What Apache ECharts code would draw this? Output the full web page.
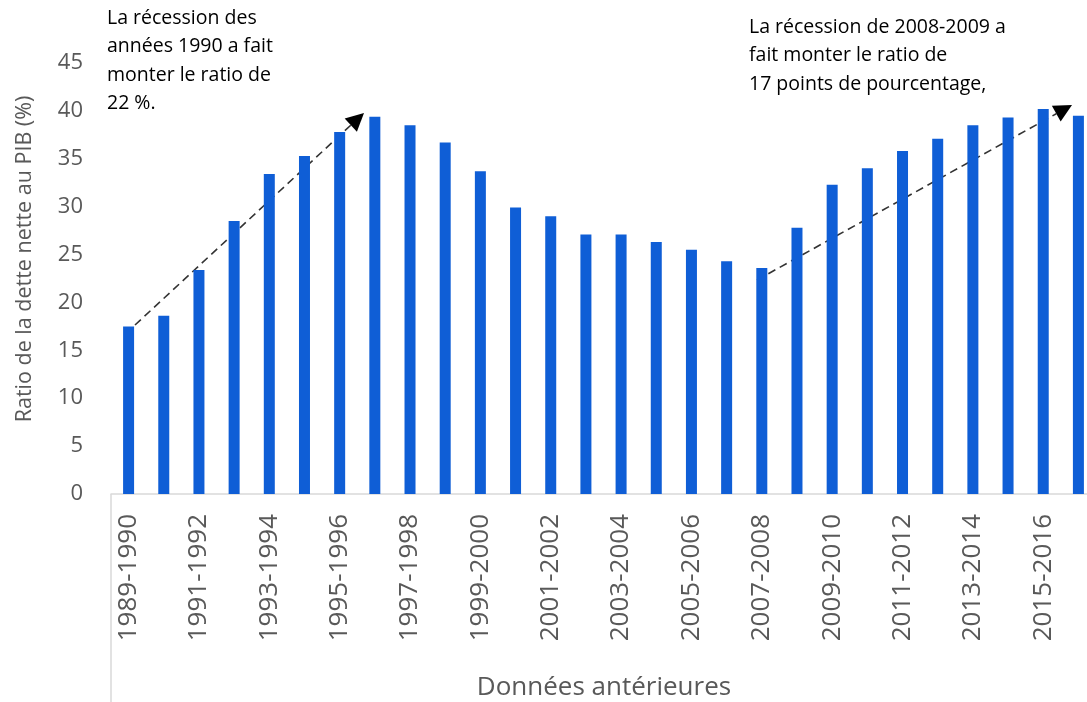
<!DOCTYPE html>
<html>
<head>
<meta charset="utf-8">
<script src="https://cdn.jsdelivr.net/npm/echarts@6/dist/echarts.min.js"></script>
<style>
    html, body {margin: 0; padding: 0; background: #fff;}
    #container {width: 1087px; height: 702px;}
</style>
</head>
<body>
<div id="container"></div>
<script>
// exercices
let years = ["1989-1990", "1990-1991", "1991-1992", "1992-1993", "1993-1994", "1994-1995", "1995-1996",
    "1996-1997", "1997-1998", "1998-1999", "1999-2000", "2000-2001", "2001-2002", "2002-2003",
    "2003-2004", "2004-2005", "2005-2006", "2006-2007", "2007-2008", "2008-2009", "2009-2010",
    "2010-2011", "2011-2012", "2012-2013", "2013-2014", "2014-2015", "2015-2016", "2016-2017"];
// ratio dette nette / PIB (%)
let ratio = [17.5, 18.6, 23.4, 28.5, 33.4, 35.3, 37.8, 39.4, 38.5, 36.7, 33.7, 29.9, 29.0, 27.1,
    27.1, 26.3, 25.5, 24.3, 23.6, 27.8, 32.3, 34.0, 35.8, 37.1, 38.5, 39.3, 40.2, 39.5];
let noteLeft = "La récession des\nannées 1990 a fait\nmonter le ratio de\n22 %.";
let noteRight = "La récession de 2008-2009 a\nfait monter le ratio de\n17 points de pourcentage,";

var dom = document.getElementById("container");
var myChart = echarts.init(dom);
var font = "'Open Sans', 'Noto Sans', sans-serif";
var grey = "#595959";

/**
 * fleche pointillee avec pointe pleine
 */
function arrow(x1, y1, x2, y2) {
    let ang = Math.atan2(y2 - y1, x2 - x1);
    let len = 18, half = 9;
    let bx = x2 - len * Math.cos(ang), by = y2 - len * Math.sin(ang);
    let px = -Math.sin(ang) * half, py = Math.cos(ang) * half;
    return [
        {
            type: 'line',
            shape: {x1: x1, y1: y1, x2: bx, y2: by},
            style: {stroke: '#333', lineWidth: 1.6, lineDash: [8, 5]}
        },
        {
            type: 'polygon',
            shape: {points: [[x2, y2], [bx + px, by + py], [bx - px, by - py]]},
            style: {fill: '#000'}
        }
    ];
}

var option = {
    animation: false,
    grid: {left: 111, right: -9, top: 63, bottom: 208, outerBoundsMode: 'none', containLabel: false},
    xAxis: {
        type: 'category',
        data: years,
        axisLine: {lineStyle: {color: '#d9d9d9', width: 1.5}},
        axisTick: {show: false},
        axisLabel: {
            interval: 1,
            rotate: 90,
            margin: 20,
            fontFamily: font,
            fontSize: 26,
            color: grey
        }
    },
    yAxis: {
        type: 'value',
        min: 0,
        max: 45,
        interval: 5,
        axisLine: {show: false},
        axisTick: {show: false},
        splitLine: {show: false},
        axisLabel: {margin: 28, fontFamily: font, fontSize: 22, color: grey}
    },
    series: [{
        type: 'bar',
        data: ratio,
        barWidth: 11,
        itemStyle: {color: '#0F5ED6'}
    }],
    graphic: [
        {
            type: 'line',
            shape: {x1: 111, y1: 494, x2: 111, y2: 702},
            style: {stroke: '#d9d9d9', lineWidth: 1.5}
        },
        {
            type: 'text', x: 604, y: 688,
            style: {
                text: 'Données antérieures', fontFamily: font, fontSize: 26,
                fill: grey, align: 'center', verticalAlign: 'middle'
            }
        },
        {
            type: 'text', x: 25, y: 259, rotation: Math.PI / 2,
            style: {
                text: 'Ratio de la dette nette au PIB (%)', fontFamily: font, fontSize: 21.5,
                fill: grey, align: 'center', verticalAlign: 'middle'
            }
        },
        {
            type: 'text', left: 107, top: 4,
            style: {text: noteLeft, fontFamily: font, fontSize: 19.5, lineHeight: 28.5, fill: '#000'}
        },
        {
            type: 'text', left: 749, top: 13,
            style: {text: noteRight, fontFamily: font, fontSize: 19.5, lineHeight: 28.5, fill: '#000'}
        }
    ].concat(arrow(135, 325, 364, 113)).concat(arrow(757, 280, 1072, 105))
};

if (option && typeof option === "object") {
    myChart.setOption(option, true);
}
</script>
</body>
</html>
